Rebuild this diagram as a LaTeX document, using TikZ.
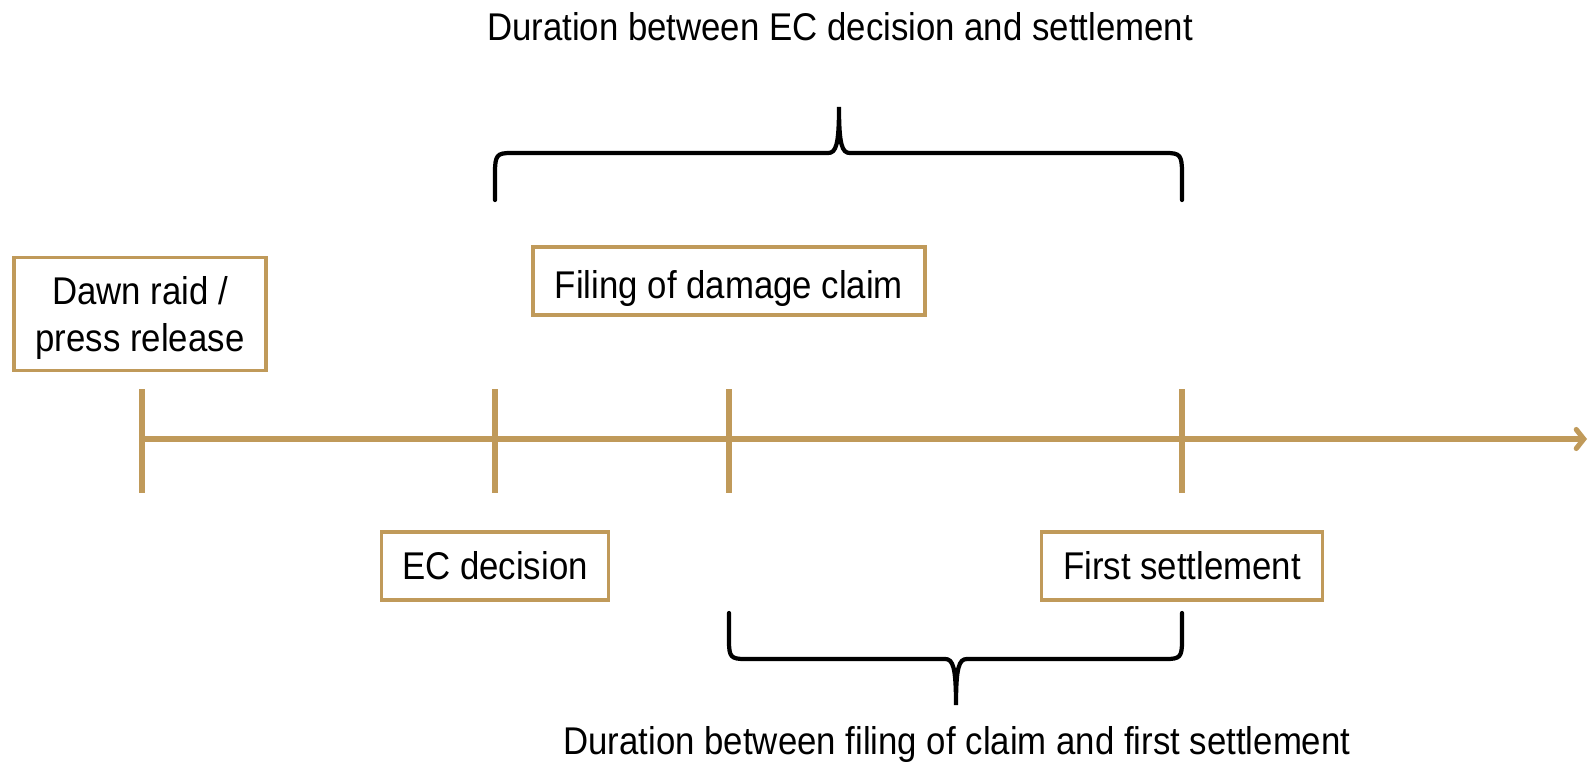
\documentclass[tikz,border=0pt]{standalone}
\usepackage{fontspec}
\setmainfont[FakeStretch=0.9]{Liberation Sans}
\usetikzlibrary{arrows.meta}
\definecolor{gold}{RGB}{192,154,90}

\tikzset{
    datebox/.style={draw=gold, line width=1.9pt, fill=white, align=center,
        font=\fontsize{22}{26.4}\selectfont, minimum height=1.36cm, inner sep=0pt},
    tick/.style={draw=gold, line width=2.9pt},
    brace/.style={draw=black, line width=2.4pt},
    label/.style={font=\fontsize{22}{26.4}\selectfont}
}

\begin{document}
\begin{tikzpicture}[x=0.02cm,y=-0.02cm,cap=round,>={Straight Barb[length=0.15cm,width=0.38cm,line cap=round]}]
        \useasboundingbox (0,0) rectangle (1590,767);

        % the points on the time line
        \coordinate (raid) at (142,439);
        \coordinate (dec)  at (495,439);
        \coordinate (fil)  at (729,439);
        \coordinate (set)  at (1182,439);
        \coordinate (end)  at (1587,439);

        % draw the time line
        \draw[tick,->] (raid) -- (end);

        % draw the ticks
        \foreach \p in {raid,dec,fil,set}
            \draw[tick,line cap=butt] (\p) ++(0,-50) -- ++(0,104);

        % draw the boxes
        \node[datebox, minimum height=2.26cm, minimum width=5.04cm, text depth=0pt] (raidbox) at (140,314)
            {Dawn raid /\\press release};
        \node[datebox, minimum width=7.84cm, text height=24pt] (filbox) at (729,281) {Filing of damage claim};
        \node[datebox, minimum width=4.54cm] (decbox) at (495,566) {EC decision};
        \node[datebox, minimum width=5.62cm] (setbox) at (1182,566) {First settlement};

        % draw the upper brace
        \draw[brace]
            (dec) ++(0,-239) -- ++(0,-27)
            .. controls +(0,-18) and +(-14,0) .. (511,153)
            -- (828,153)
            .. controls (836,153) and (839,145) .. (839,107)
            .. controls (839,145) and (842,153) .. (850,153)
            -- (1166,153)
            .. controls +(14,0) and +(0,-18) .. (1182,173)
            -- (1182,200);
        \node[label] (toplabel) at (840,27) {Duration between EC decision and settlement};

        % draw the lower brace
        \draw[brace]
            (fil) ++(0,174) -- ++(0,28)
            .. controls +(0,16) and +(-14,0) .. (745,659)
            -- (945,659)
            .. controls (953,659) and (956,667) .. (956,705)
            .. controls (956,667) and (959,659) .. (967,659)
            -- (1166,659)
            .. controls +(14,0) and +(0,16) .. (1182,641)
            -- (1182,613);
        \node[label] (botlabel) at (957,745) {Duration between filing of claim and first settlement};
\end{tikzpicture}
\end{document}
